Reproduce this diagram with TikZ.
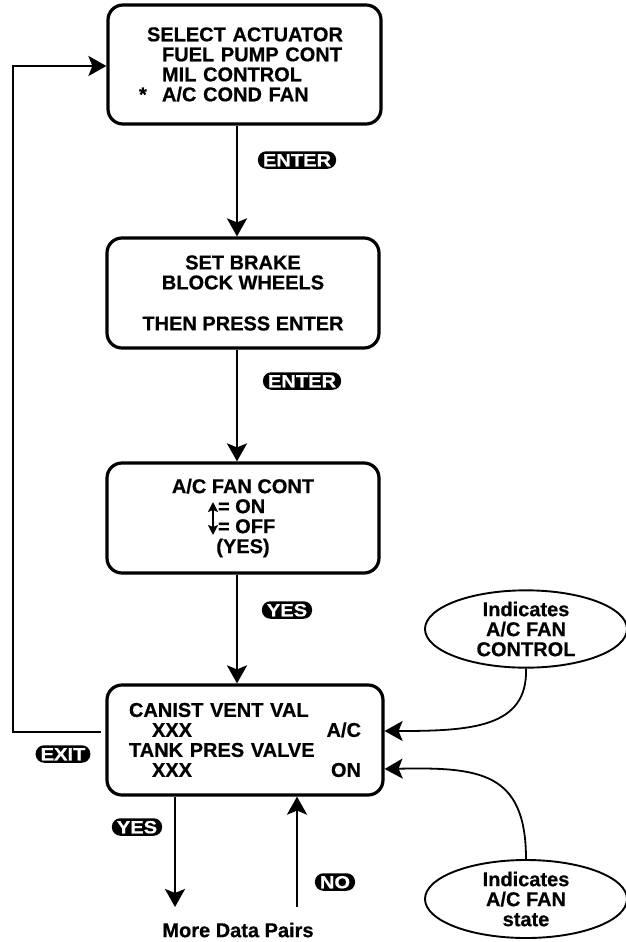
\documentclass[tikz,border=0pt]{standalone}
\usepackage{fontspec}
\setmainfont{Liberation Sans}[BoldFeatures={FakeBold=0.6}]
\newfontfamily\keyfont{Liberation Sans}[FakeStretch=1.15, BoldFeatures={FakeBold=0.8}]
\usetikzlibrary{arrows.meta, shapes.geometric}

\begin{document}
\begin{tikzpicture}[x=1pt, y=-1pt,
    screen/.style={draw, line width=3.2pt, rounded corners=15pt, inner sep=0pt,
        align=center, font=\fontsize{20}{20}\selectfont\bfseries},
    keycap/.style={fill=black, text=white, rounded corners=8.5pt, inner xsep=5pt,
        inner ysep=2.5pt, text height=12.5pt, text depth=0pt,
        font=\keyfont\fontsize{17.5}{17.5}\selectfont\bfseries},
    note/.style={draw, ellipse, line width=1.9pt, minimum width=202pt, inner sep=0pt,
        align=center, font=\fontsize{20}{20}\selectfont\bfseries},
    flow/.style={line width=2.7pt, -{Stealth[length=18pt, width=20pt, inset=4pt]}},
    pointer/.style={line width=1.8pt, -{Stealth[length=18pt, width=20pt, inset=4pt]}},
    updown/.style={line width=1.8pt, {Stealth[length=10pt, width=10pt, inset=2pt]}-{Stealth[length=10pt, width=10pt, inset=2pt]}}]

    % Fix the page size
    \useasboundingbox (0,0) rectangle (625,942);

    % Define the screens
    \node[screen, minimum width=273pt, minimum height=119pt, text width=211pt, align=left]
        (sel) at (244.5,64.5)
        {\hspace*{8pt}SELECT ACTUATOR\\
         \hspace*{23pt}FUEL PUMP CONT\\
         \hspace*{23pt}MIL CONTROL\\
         \makebox[23pt][l]{*}A/C COND FAN};
    \node[screen, minimum width=272pt, minimum height=110pt] (brake) at (243,293)
        {SET BRAKE\\BLOCK WHEELS\\[21pt]THEN PRESS ENTER};
    \node[screen, minimum width=272pt, minimum height=110pt] (fan) at (243,518)
        {A/C FAN CONT\\
         \makebox[66pt][l]{\hspace*{8pt}= ON}\\
         \makebox[66pt][l]{\hspace*{8pt}= OFF}\\
         (YES)};
    \node[screen, minimum width=276pt, minimum height=110pt, text width=232pt, align=left]
        (data) at (245,740)
        {CANIST VENT VAL\\
         \hspace*{23pt}XXX\hfill A/C\hspace*{26pt}\\
         TANK PRES VALVE\\
         \hspace*{23pt}XXX\hfill ON\hspace*{26pt}};

    % Up and down arrow in the fan screen
    \draw[updown] ([xshift=-30pt,yshift=16pt]fan.center) -- ([xshift=-30pt,yshift=-17pt]fan.center);

    % Define the notes
    \node[note, minimum height=76pt] (ctl) at (526,629) {Indicates\\A/C FAN\\CONTROL};
    \node[note, minimum height=78pt] (st) at (526,899) {Indicates\\A/C FAN\\state};

    % Keys
    \node[keycap] (enter1) at (297,160) {ENTER};
    \node[keycap] (enter2) at (302,381) {ENTER};
    \node[keycap] (yes1) at (287,610) {YES};
    \node[keycap] (exit) at (63,754) {EXIT};
    \node[keycap] (yes2) at (137,827) {YES};
    \node[keycap] (no) at (335,882) {NO};

    % Free ends
    \coordinate (loop) at (13,66);
    \coordinate (yesend) at (175,907);
    \coordinate (nostart) at (297,907);
    \node[font=\fontsize{20}{20}\selectfont\bfseries] (more) at (238,930) {More Data Pairs};

    % Draw the main flow
    \draw[flow] ([xshift=-7.5pt]sel.south) -- ([xshift=-6pt]brake.north);
    \draw[flow] ([xshift=-6pt]brake.south) -- ([xshift=-6pt]fan.north);
    \draw[flow] ([xshift=-6pt]fan.south) -- ([xshift=-8pt]data.north);

    % Draw the exit loop
    \draw[flow] ([xshift=-4pt,yshift=8pt]data.west) -| (loop) -- (sel.west |- loop);

    % Draw the data pair arrows
    \draw[flow] (data.south -| yesend) -- (yesend);
    \draw[flow] (nostart) -- (data.south -| nostart);

    % Draw the note pointers
    \draw[pointer] (ctl.south) .. controls (528,728) and (470,731) .. ([yshift=9pt]data.east);
    \draw[pointer] (st.north) .. controls (526,772) and (480,767) .. ([yshift=-29pt]data.east);

\end{tikzpicture}
\end{document}
